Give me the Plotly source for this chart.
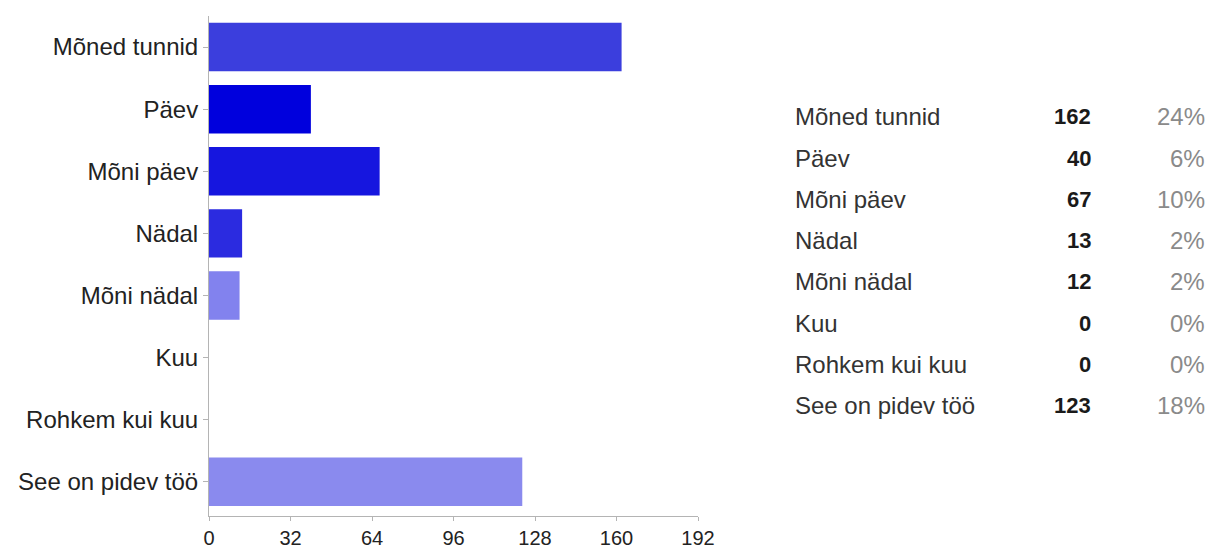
import plotly.graph_objects as go

categories = ["Mõned tunnid", "Päev", "Mõni päev", "Nädal", "Mõni nädal",
              "Kuu", "Rohkem kui kuu", "See on pidev töö"]
counts = [162, 40, 67, 13, 12, 0, 0, 123]
percents = ["24%", "6%", "10%", "2%", "2%", "0%", "0%", "18%"]
bar_colors = ["#3b3edd", "#0000dd", "#1616df", "#2b2be0", "#8282ee",
              "#8282ee", "#8282ee", "#8a8aee"]
x_ticks = [0, 32, 64, 96, 128, 160, 192]

W, H = 1213, 548
L, R, T, B = 209, 515, 16, 32
plot_w = W - L - R
plot_h = H - T - B

fig = go.Figure(go.Bar(
    x=counts, y=categories, orientation="h",
    marker=dict(color=bar_colors, line=dict(width=0)),
    hoverinfo="x+y",
))

font = "Liberation Sans, Arial, sans-serif"

fig.update_layout(
    width=W, height=H,
    margin=dict(l=L, r=R, t=T, b=B, pad=0, autoexpand=False),
    paper_bgcolor="white", plot_bgcolor="white",
    bargap=0.22,
    showlegend=False,
    font=dict(family=font, size=24, color="#222222"),
    xaxis=dict(range=[0, 192], tickvals=x_ticks, showgrid=False, zeroline=False,
               showline=True, linecolor="#b4b4b4", linewidth=1,
               ticks="outside", ticklen=4, tickcolor="#b4b4b4", automargin=False,
               tickfont=dict(size=20, color="#222222"), fixedrange=True),
    yaxis=dict(categoryorder="array", categoryarray=categories,
               range=[len(categories) - 0.45, -0.5], automargin=False,
               showgrid=False, zeroline=False, showline=True, linecolor="#b4b4b4",
               linewidth=1, ticks="outside", ticklen=5, tickcolor="#b4b4b4",
               tickfont=dict(size=24, color="#222222"), fixedrange=True),
)

# Summary table on the right: label, count (bold), percent
def px_x(px):
    return (px - L) / plot_w

def px_y(py):
    return 1 - (py - T) / plot_h

row_top, row_step = 117, 41.2
for i, (cat, n, p) in enumerate(zip(categories, counts, percents)):
    y = px_y(row_top + i * row_step)
    fig.add_annotation(x=px_x(793), y=y, xref="paper", yref="paper", text=cat,
                       showarrow=False, xanchor="left", yanchor="middle",
                       font=dict(size=24, color="#333333", family=font))
    fig.add_annotation(x=px_x(1093), y=y, xref="paper", yref="paper", text=f"<b>{n}</b>",
                       showarrow=False, xanchor="right", yanchor="middle",
                       font=dict(size=22, color="#1a1a1a", family=font))
    fig.add_annotation(x=px_x(1207), y=y, xref="paper", yref="paper", text=p,
                       showarrow=False, xanchor="right", yanchor="middle",
                       font=dict(size=24, color="#8a8a8a", family=font))

fig.write_html("out.html", config={"displayModeBar": False})
